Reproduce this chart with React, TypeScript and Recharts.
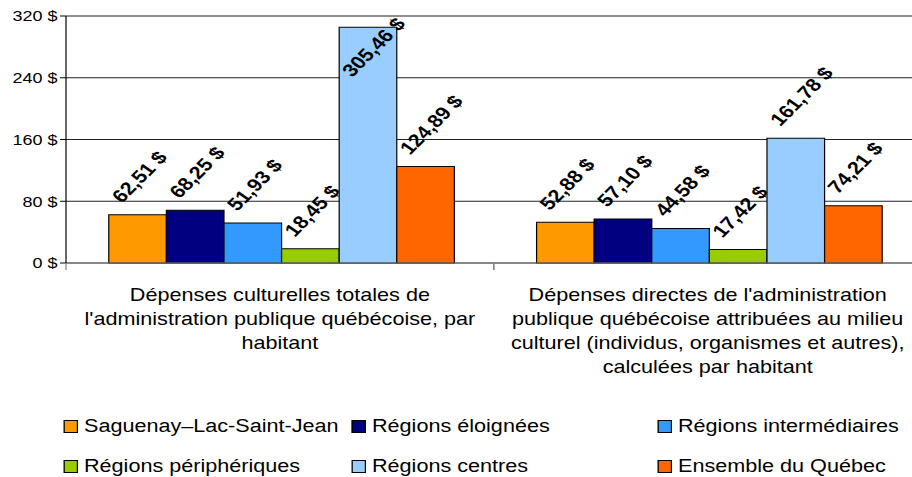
import React from "react";
import { BarChart, Bar, XAxis, YAxis, CartesianGrid, Legend, LabelList } from "recharts";

const categories = [
  "Dépenses culturelles totales de\nl'administration publique québécoise, par\nhabitant",
  "Dépenses directes de l'administration\npublique québécoise attribuées au milieu\nculturel (individus, organismes et autres),\ncalculées par habitant",
];

const seriesNames = [
  "Saguenay–Lac-Saint-Jean",
  "Régions éloignées",
  "Régions intermédiaires",
  "Régions périphériques",
  "Régions centres",
  "Ensemble du Québec",
];

const saguenay = [62.51, 52.88];
const eloignees = [68.25, 57.1];
const intermediaires = [51.93, 44.58];
const peripheriques = [18.45, 17.42];
const centres = [305.46, 161.78];
const quebec = [124.89, 74.21];

const seriesValues = [saguenay, eloignees, intermediaires, peripheriques, centres, quebec];
const colors = ["#FF9900", "#000080", "#3399FF", "#99CC00", "#99CCFF", "#FF6600"];
const yTicks = [0, 80, 160, 240, 320];

const keys = ["s0", "s1", "s2", "s3", "s4", "s5"];
const data = categories.map((c, i) => {
  const row: any = { name: c };
  seriesValues.forEach((vals, k) => {
    row[keys[k]] = vals[i];
  });
  return row;
});

const FONT = "'Liberation Sans', Arial, sans-serif";
const SX = 1.2;
const W = 768;
const H = 477;

const fmt = (v: number) => v.toFixed(2).replace(".", ",") + " $";

const ValueLabel = (props: any) => {
  const { x, y, width, value } = props;
  const cx = Number(x) + Number(width) / 2;
  const sx = cx - 13;
  const sy = Math.max(Number(y) - 11, 78);
  return (
    <text
      x={sx}
      y={sy}
      transform={`rotate(-50 ${sx} ${sy})`}
      fontSize={18}
      fontWeight="bold"
      fill="#000"
      fontFamily={FONT}
    >
      {fmt(Number(value))}
    </text>
  );
};

const CategoryTick = (props: any) => {
  const { x, y, payload } = props;
  const off = payload.offset || 0;
  const lines = String(payload.value).split("\n");
  return (
    <g>
      <line x1={x - off} x2={x - off} y1={y} y2={y + 7} stroke="#808080" />
      <line x1={x + off} x2={x + off} y1={y} y2={y + 7} stroke="#808080" />
      <text textAnchor="middle" fontSize={18} fill="#000" fontFamily={FONT}>
        {lines.map((l, i) => (
          <tspan key={i} x={x} y={y + 38 + i * 24}>
            {l}
          </tspan>
        ))}
      </text>
    </g>
  );
};

const legendCols = [53, 293, 548];
const legendRows = [13, 53];

const LegendContent = () => (
  <div style={{ position: "relative", height: 70, width: W, fontFamily: FONT, fontSize: 18, color: "#000" }}>
    {seriesNames.map((n, i) => {
      const left = legendCols[i % 3];
      const top = legendRows[Math.floor(i / 3)];
      return (
        <div
          key={n}
          style={{ position: "absolute", left, top, height: 20, lineHeight: "20px", whiteSpace: "nowrap", display: "flex", alignItems: "center" }}
        >
          <span
            style={{
              display: "inline-block",
              width: 10,
              height: 11,
              background: colors[i],
              border: "1px solid #000",
              marginRight: 5,
            }}
          />
          <span>{n}</span>
        </div>
      );
    })}
  </div>
);

export default function App() {
  return (
    <div style={{ position: "absolute", left: 0, top: 0, width: 912, height: H, overflow: "hidden", background: "#fff" }}>
      <div style={{ width: W, height: H, transform: `scaleX(${SX})`, transformOrigin: "0 0" }}>
        <BarChart
          width={W}
          height={H}
          data={data}
          margin={{ top: 16, right: 0, left: 0, bottom: 4 }}
          barCategoryGap="10%"
          barGap={0}
        >
          <CartesianGrid vertical={false} stroke="#222" />
          <XAxis
            dataKey="name"
            height={140}
            tickLine={false}
            tickSize={0}
            tickMargin={0}
            interval={0}
            axisLine={{ stroke: "#808080" }}
            tick={<CategoryTick />}
          />
          <YAxis
            width={55}
            domain={[0, 320]}
            ticks={yTicks}
            tickSize={5}
            tickFormatter={(v: number) => `${v} $`}
            axisLine={{ stroke: "#000" }}
            tickLine={{ stroke: "#000" }}
            tick={{ fontSize: 15, fill: "#000", fontFamily: FONT }}
          />
          <Legend verticalAlign="bottom" height={70} content={<LegendContent />} />
          {keys.map((k, i) => (
            <Bar key={k} dataKey={k} name={seriesNames[i]} fill={colors[i]} stroke="#000" strokeWidth={1} isAnimationActive={false}>
              <LabelList dataKey={k} content={<ValueLabel />} />
            </Bar>
          ))}
        </BarChart>
      </div>
    </div>
  );
}
